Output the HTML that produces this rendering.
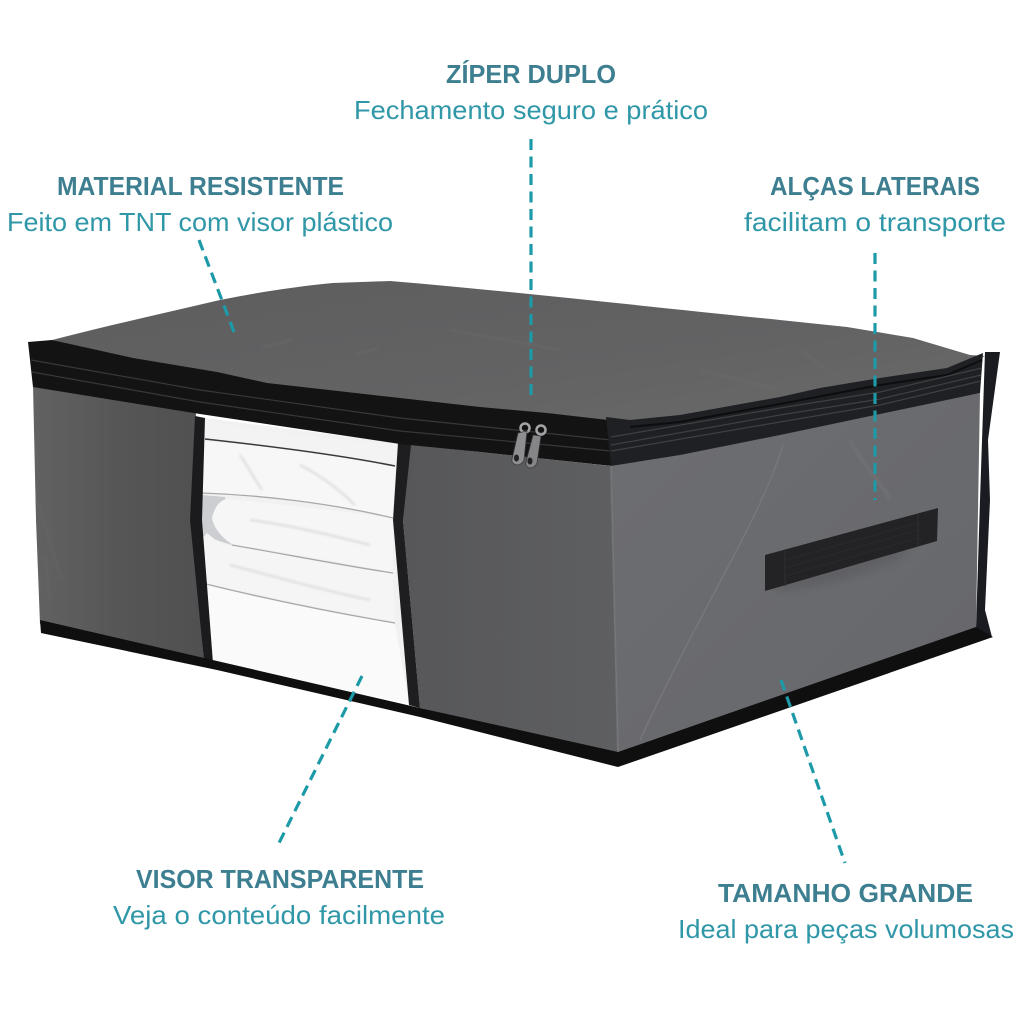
<!DOCTYPE html>
<html><head><meta charset="utf-8"><style>
html,body{margin:0;padding:0;background:#fff}
svg{display:block}
text{font-family:"Liberation Sans",sans-serif;text-anchor:start}
.h{font-size:26px;font-weight:bold;fill:#3d7f90}
.s{font-size:26px;fill:#2f97a7}
.d{stroke:#1d9aa8;stroke-width:3.2;stroke-dasharray:11 6.5;fill:none}
</style></head><body>
<svg width="1024" height="1024" viewBox="0 0 1024 1024" xmlns="http://www.w3.org/2000/svg">
<defs>
<linearGradient id="top" x1="0" y1="0" x2="1" y2="1"><stop offset="0" stop-color="#5d5d5e"/><stop offset=".6" stop-color="#636364"/><stop offset="1" stop-color="#6a6a6b"/></linearGradient>
<linearGradient id="side" x1="0" y1="0" x2="1" y2="1"><stop offset="0" stop-color="#6d6e72"/><stop offset="1" stop-color="#66676a"/></linearGradient>
<linearGradient id="fr" x1="0" y1="0" x2="1" y2="0"><stop offset="0" stop-color="#57575a"/><stop offset="1" stop-color="#5e5f61"/></linearGradient>
<linearGradient id="fl" x1="0" y1="0" x2="1" y2="0"><stop offset="0" stop-color="#626263"/><stop offset=".5" stop-color="#565657"/><stop offset="1" stop-color="#505051"/></linearGradient>
<filter id="b1" x="-10%" y="-10%" width="120%" height="120%"><feGaussianBlur stdDeviation="1"/></filter>
<filter id="b4" x="-30%" y="-30%" width="160%" height="160%"><feGaussianBlur stdDeviation="4"/></filter>
</defs>
<rect width="1024" height="1024" fill="#fff"/>

<!-- top face -->
<path d="M52 340 C110 325 165 313 220 300 C260 292 300 286 333 283 L390 281 C520 292 660 308 780 320 L847 327 L913 338 L970 355 L985 356 L947 372 L880 382 L820 392 L680 420 L603 425 L400 402 L267 386 L133 360 Z" fill="url(#top)"/>
<g stroke="#707071" stroke-width="2" fill="none" opacity=".45" filter="url(#b1)">
<path d="M262 347 C275 345 285 342 293 340"/><path d="M355 355 L378 348"/><path d="M700 370 L780 390"/><path d="M450 330 L560 350"/><path d="M800 350 L830 372"/>
</g>

<!-- front left -->
<path d="M33 385 L196 412 L192 520 L204 662 L40 624 L36 520 Z" fill="url(#fl)"/>
<path d="M37 500 L62 580 M45 555 L50 600" stroke="#6a6a6b" stroke-width="2" opacity=".45" filter="url(#b1)"/>
<!-- front right -->
<path d="M405 444 L611 466 L618 754 L420 708 L403 520 Z" fill="url(#fr)"/>
<!-- side -->
<path d="M611 466 L980 393 L976 628 L618 754 Z" fill="url(#side)"/>
<path d="M783 445 C760 520 700 610 640 740" stroke="#7a7b7e" stroke-width="1.500" fill="none" opacity=".8"/>
<path d="M850 440 C862 465 880 480 890 500" stroke="#7a7b7e" stroke-width="3" fill="none" opacity=".4" filter="url(#b1)"/>
<path d="M611 466 L618 752" stroke="#76777a" stroke-width="2" opacity=".7"/>
<ellipse cx="840" cy="570" rx="70" ry="10" transform="rotate(-16 840 570)" fill="#4f5053" opacity=".35" filter="url(#b4)"/>

<!-- window contents -->
<path d="M205 418 L398 443 L393 520 L409 703 L213 663 L200 540 Z" fill="#f1f1f1"/>
<path d="M202 495 L225 497 L232 545 L200 535 Z" fill="#ccced2"/>
<path d="M205 420 C260 432 340 440 398 445 L395 465 C330 455 260 445 204 438 Z" fill="#f3f3f3"/>
<path d="M203 441 C260 445 340 455 395 466 L393 517 C330 503 260 495 202 493 Z" fill="#f7f7f7"/>
<path d="M212 518 C215 505 222 498 230 499 C280 505 340 510 393 519 L393 572 C340 562 280 552 232 544 C225 540 214 530 212 518 Z" fill="#f6f6f6"/>
<path d="M200 541 L207 533 C215 540 222 545 232 546 C290 555 340 565 393 574 L395 622 C330 610 260 595 200 582 Z" fill="#f5f5f5"/>
<path d="M202 584 C270 600 330 612 395 624 L409 703 L213 663 Z" fill="#fafafa"/>
<g fill="none" stroke="#3a3a3c" stroke-width="1.500">
<path d="M205 439 C260 445 340 455 395 466"/>
</g>
<g fill="none" stroke="#a9a9a9" stroke-width="1.300">
<path d="M202 493 C260 495 330 503 393 518"/>
<path d="M232 545 C290 555 340 565 393 573"/>
<path d="M202 583 C270 600 330 612 395 623"/>
</g>
<g fill="none" stroke="#e0e0e0" stroke-width="2.500" filter="url(#b1)">
<path d="M240 455 C250 470 255 480 262 490"/><path d="M300 465 C320 475 340 490 355 505"/><path d="M250 520 C290 525 330 535 370 545"/><path d="M230 565 C270 575 320 590 370 600"/>
</g>

<!-- window strips -->
<path d="M195 416 L205 418 L202 520 L213 663 L204 661 L190 520 Z" fill="#1b1b1d"/>
<path d="M398 443 L411 445 L403 520 L420 708 L409 705 L393 520 Z" fill="#1e1e20"/>

<!-- zipper band front -->
<path d="M28 342 L52 340 L133 358 L217 372 L267 383 L400 398 L480 407 L547 413 L608 420 L612 466 L480 452 L400 444 L200 414 L33 387 Z" fill="#131314"/>
<g fill="none" stroke="#38383a" stroke-width="1.200">
<path d="M31 360 L200 390 L400 418 L611 440"/>
<path d="M32 372 L200 402 L400 431 L611 451"/>
</g>
<!-- zipper band side -->
<path d="M606 417 L630 420 L680 415 L780 397 L820 388 L880 378 L947 368 L983 353 L980 393 L780 435 L680 455 L611 466 Z" fill="#1f2023"/>
<path d="M630 427 L680 422 L780 404 L880 385 L947 375 L982 360" fill="none" stroke="#0d0d0f" stroke-width="2"/>
<g fill="none" stroke="#3f4043" stroke-width="1.200">
<path d="M611 437 L780 408 L880 392 L982 368"/>
<path d="M611 445 L780 415 L880 399 L981 375"/>
<path d="M611 451 L780 422 L880 405 L981 381"/>
</g>
<!-- right binding -->
<path d="M985 352 L1000 352 L988 440 L990 500 L985 610 L992 637 L976 628 L980 500 Z" fill="#1a1c21"/>
<!-- bottom binding -->
<path d="M40 620 L217 661 L420 708 L618 752 L976 627 L993 637 L618 767 L420 717 L217 670 L41 633 Z" fill="#0f0f10"/>

<!-- handle -->
<path d="M765 555 L938 508 L937 541 L765 591 Z" fill="#232325"/>
<path d="M785 551 L785 586 M918 514 L918 546" stroke="#2f2f31" stroke-width="1"/>
<g stroke="#2a2a2c" stroke-width="1"><path d="M785 560 L918 523"/><path d="M785 568 L918 530"/><path d="M785 576 L918 538"/></g>

<!-- zipper pulls -->
<g>
<circle cx="525" cy="428" r="4.500" fill="none" stroke="#a5a5a7" stroke-width="2.500"/>
<circle cx="541" cy="430" r="4.500" fill="none" stroke="#a5a5a7" stroke-width="2.500"/>
<path d="M518 433 L527 431 L524 460 Q522 465 516 465 Q511 463 512 459 Z" fill="#8e8e90" stroke="#3a3a3c" stroke-width=".8"/>
<path d="M533 435 L541 436 L537 463 Q535 468 529 468 Q525 466 526 462 Z" fill="#858587" stroke="#3a3a3c" stroke-width=".8"/>
<ellipse cx="516.500" cy="458" rx="2.500" ry="3.500" fill="#222224"/>
<ellipse cx="530" cy="461" rx="2.500" ry="3.500" fill="#222224"/>
</g>

<!-- dashed connectors -->
<path class="d" d="M199 240 L234 332"/>
<path class="d" d="M531 139 L531 397"/>
<path class="d" d="M875 253 L875 500"/>
<path class="d" d="M362 676 L279 843"/>
<path class="d" d="M781 680 L845 863"/>

<!-- labels -->
<text class="h" x="446" y="83" textLength="170" lengthAdjust="spacingAndGlyphs">ZÍPER DUPLO</text>
<text class="s" x="354" y="119" textLength="354" lengthAdjust="spacingAndGlyphs">Fechamento seguro e prático</text>
<text class="h" x="57" y="195" textLength="287" lengthAdjust="spacingAndGlyphs">MATERIAL RESISTENTE</text>
<text class="s" x="7" y="231" textLength="386" lengthAdjust="spacingAndGlyphs">Feito em TNT com visor plástico</text>
<text class="h" x="770" y="195" textLength="210" lengthAdjust="spacingAndGlyphs">ALÇAS LATERAIS</text>
<text class="s" x="744" y="231" textLength="262" lengthAdjust="spacingAndGlyphs">facilitam o transporte</text>
<text class="h" x="136" y="888" textLength="288" lengthAdjust="spacingAndGlyphs">VISOR TRANSPARENTE</text>
<text class="s" x="113" y="924" textLength="332" lengthAdjust="spacingAndGlyphs">Veja o conteúdo facilmente</text>
<text class="h" x="718" y="902" textLength="255" lengthAdjust="spacingAndGlyphs">TAMANHO GRANDE</text>
<text class="s" x="678" y="938" textLength="336" lengthAdjust="spacingAndGlyphs">Ideal para peças volumosas</text>
</svg>
</body></html>
